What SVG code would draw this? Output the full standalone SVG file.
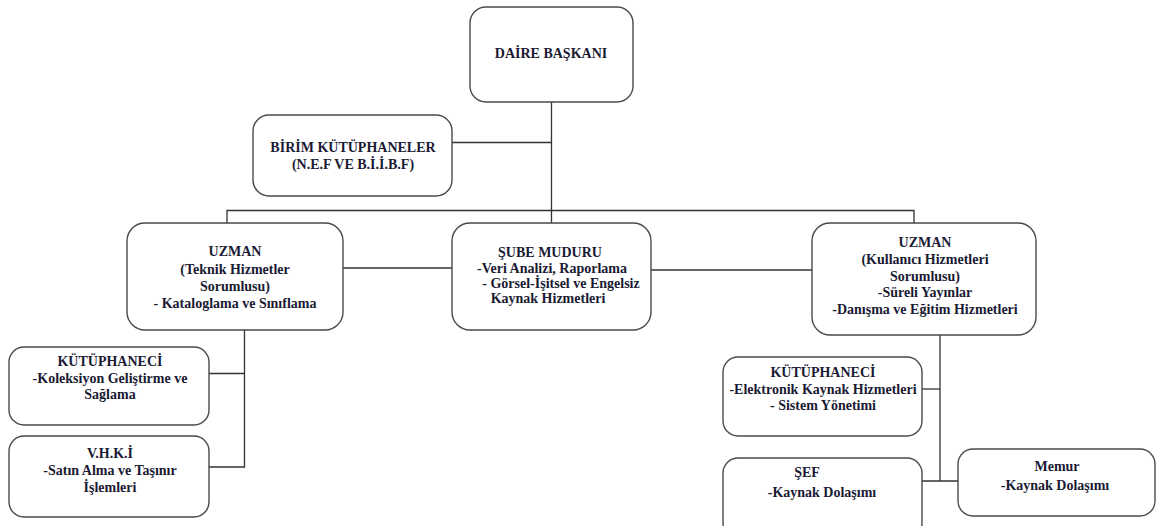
<svg xmlns="http://www.w3.org/2000/svg" width="1156" height="526" viewBox="0 0 1156 526" font-family="Liberation Serif, serif">
<style>
.box{fill:#fff;stroke:#4a4a4a;stroke-width:1.4}
.c{fill:none;stroke:#333;stroke-width:1.3}
text{font-family:'Liberation Serif',Tinos,'Times New Roman',serif;font-weight:700;font-size:14px;fill:#1a1a33;text-anchor:middle}
</style>
<rect width="1156" height="526" fill="#fff"/>
<g id="connectors">
<path class="c" d="M551.5 102V223"/>
<path class="c" d="M452 142.5H551.5"/>
<path class="c" d="M227 223V210.5H914V223"/>
<path class="c" d="M343 268H452"/>
<path class="c" d="M651 270H812"/>
<path class="c" d="M244.5 330V467H209"/>
<path class="c" d="M209 373.5H244.5"/>
<path class="c" d="M940 335V481"/>
<path class="c" d="M922 389H940"/>
<path class="c" d="M922 481H958"/>
</g>
<g id="daire">
<rect class="box" x="470" y="7" width="163" height="95" rx="16"/>
<text x="551" y="58">DAİRE BAŞKANI</text>
</g>
<g id="birim">
<rect class="box" x="253" y="115" width="199" height="81" rx="16"/>
<text x="353" y="152">BİRİM KÜTÜPHANELER</text>
<text x="353" y="169">(N.E.F VE B.İ.İ.B.F)</text>
</g>
<g id="uzman-teknik">
<rect class="box" x="127" y="223" width="216" height="107" rx="18"/>
<text x="235" y="256">UZMAN</text>
<text x="235" y="274">(Teknik Hizmetler</text>
<text x="235" y="291">Sorumlusu)</text>
<text x="235" y="308">- Kataloglama ve Sınıflama</text>
</g>
<g id="sube">
<rect class="box" x="452" y="223" width="199" height="107" rx="18"/>
<text x="550" y="257">ŞUBE MUDURU</text>
<text x="552" y="273">-Veri Analizi, Raporlama</text>
<text x="561" y="288">- Görsel-İşitsel ve Engelsiz</text>
<text x="548" y="303">Kaynak Hizmetleri</text>
</g>
<g id="uzman-kullanici">
<rect class="box" x="812" y="223" width="224" height="112" rx="18"/>
<text x="925" y="247">UZMAN</text>
<text x="925" y="264">(Kullanıcı Hizmetleri</text>
<text x="925" y="281">Sorumlusu)</text>
<text x="925" y="297">-Süreli Yayınlar</text>
<text x="925" y="314">-Danışma ve Eğitim Hizmetleri</text>
</g>
<g id="kutuphaneci-1">
<rect class="box" x="9" y="347" width="200" height="78" rx="15"/>
<text x="110" y="366">KÜTÜPHANECİ</text>
<text x="110" y="383">-Koleksiyon Geliştirme ve</text>
<text x="110" y="399">Sağlama</text>
</g>
<g id="vhki">
<rect class="box" x="9" y="436" width="200" height="81" rx="15"/>
<text x="110" y="458">V.H.K.İ</text>
<text x="110" y="475">-Satın Alma ve Taşınır</text>
<text x="110" y="492">İşlemleri</text>
</g>
<g id="kutuphaneci-2">
<rect class="box" x="723" y="357" width="199" height="79" rx="15"/>
<text x="823" y="377">KÜTÜPHANECİ</text>
<text x="823" y="394">-Elektronik Kaynak Hizmetleri</text>
<text x="823" y="410">- Sistem Yönetimi</text>
</g>
<g id="sef">
<rect class="box" x="723" y="458" width="199" height="80" rx="15"/>
<text x="807" y="477">ŞEF</text>
<text x="822" y="497">-Kaynak Dolaşımı</text>
</g>
<g id="memur">
<rect class="box" x="958" y="449" width="197" height="67" rx="15"/>
<text x="1057" y="471">Memur</text>
<text x="1055" y="490">-Kaynak Dolaşımı</text>
</g>
</svg>
